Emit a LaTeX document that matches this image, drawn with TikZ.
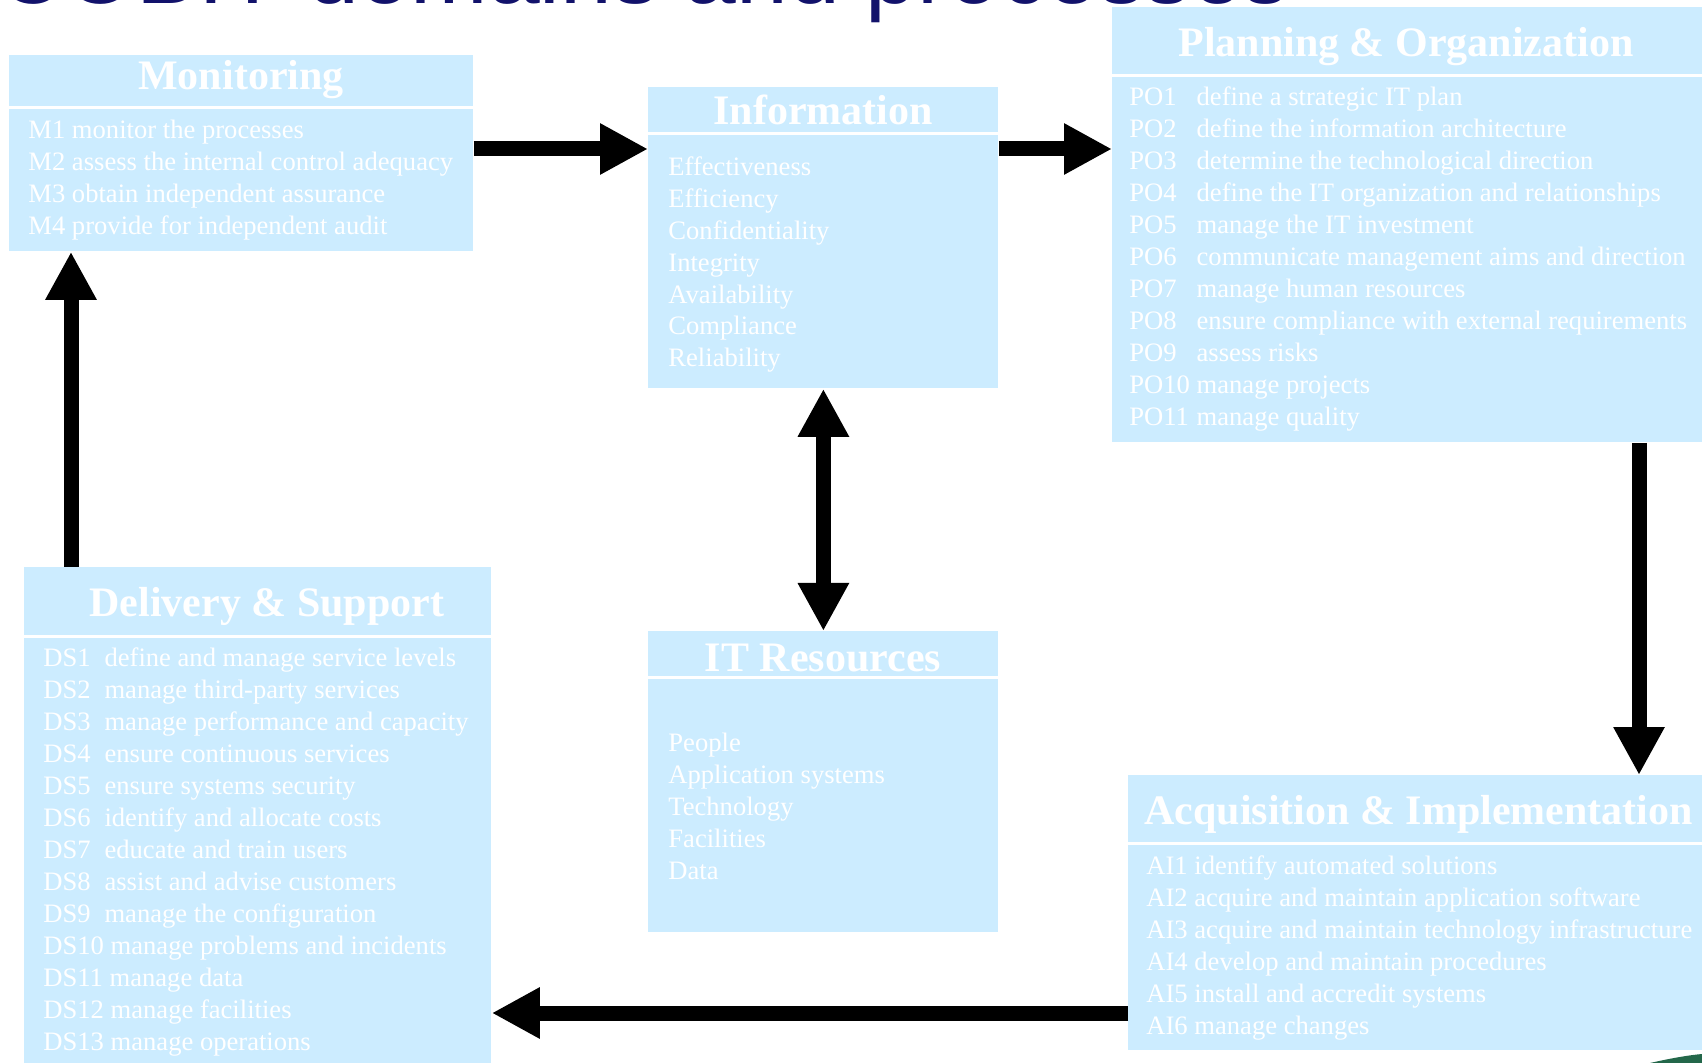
\documentclass[tikz,border=0pt]{standalone}
\usepackage{fontspec}
\setmainfont{Liberation Serif}
\newfontfamily\titlefont{Liberation Sans}
\usetikzlibrary{arrows.meta}

\definecolor{panelblue}{HTML}{CCECFF}
\definecolor{titlenavy}{HTML}{12126B}
\definecolor{logogreen}{HTML}{23674A}

\newcommand{\potab}[1]{\makebox[2.53em][l]{#1}}
\newcommand{\dstab}[1]{\makebox[2.30em][l]{#1}}

\begin{document}
\begin{tikzpicture} [
    x=0.5pt, y=-0.5pt,
  ]

  \tikzstyle{panel} = [
    rectangle,
    fill=panelblue,
    inner sep=0pt,
    anchor=north west,
  ]
  \tikzstyle{divider} = [white, line width=1.5pt]
  \tikzstyle{heading} = [
    text=white,
    inner sep=0pt,
    font=\bfseries\fontsize{21}{24}\selectfont,
  ]
  \tikzstyle{entry} = [
    text=white,
    inner sep=0pt,
    anchor=base west,
    font=\fontsize{13.3}{16}\selectfont,
  ]
  \tikzstyle{flow} = [line width=7.5pt, -{Triangle[length=24pt,width=24pt]}]
  \tikzstyle{dualflow} = [line width=7.5pt, {Triangle[length=24pt,width=24pt]}-{Triangle[length=24pt,width=24pt]}]

  \fill[white] (0,0) rectangle (1702,1063);
  \useasboundingbox (0,0) rectangle (1702,1063);

  \node[anchor=base west, inner sep=0pt, text=titlenavy,
        font=\titlefont\fontsize{46.5}{50}\selectfont] (title) at (-3,4) {COBIT domains and processes};

  \node[panel, minimum width=232pt,   minimum height=98pt]    (mon) at (9,55)     {};
  \node[panel, minimum width=175pt,   minimum height=150.5pt] (inf) at (648,87)   {};
  \node[panel, minimum width=304pt,   minimum height=217.5pt] (pla) at (1112,7)   {};
  \node[panel, minimum width=175pt,   minimum height=150.5pt] (res) at (648,631)  {};
  \node[panel, minimum width=296pt,   minimum height=137.5pt] (acq) at (1128,775) {};
  \node[panel, minimum width=233.5pt, minimum height=260pt]   (del) at (24,567)   {};

  \draw[divider] (mon.west |- 0,107.5) -- (mon.east |- 0,107.5);
  \draw[divider] (inf.west |- 0,133.5) -- (inf.east |- 0,133.5);
  \draw[divider] (pla.west |- 0,76)    -- (pla.east |- 0,76);
  \draw[divider] (res.west |- 0,677.5) -- (res.east |- 0,677.5);
  \draw[divider] (acq.west |- 0,843)   -- (acq.east |- 0,843);
  \draw[divider] (del.west |- 0,636)   -- (del.east |- 0,636);

  \node[heading, anchor=base]      (mon-head) at (241,90)   {Monitoring};
  \node[heading, anchor=base]      (inf-head) at (823,125)  {Information};
  \node[heading, anchor=base west] (pla-head) at (1178,57)  {Planning \& Organization};
  \node[heading, anchor=base]      (res-head) at (823,671)  {IT Resources};
  \node[heading, anchor=base west] (acq-head) at (1144,824) {Acquisition \& Implementation};
  \node[heading, anchor=base west] (del-head) at (89,617)   {Delivery \& Support};

  \foreach \item [count=\i] in {M1 monitor the processes,
      M2 assess the internal control adequacy,
      M3 obtain independent assurance,
      M4 provide for independent audit}
    \node[entry] (mon-\i) at (28,{139+31.7*(\i-1)}) {\item};

  \foreach \item [count=\i] in {Effectiveness, Efficiency, Confidentiality,
      Integrity, Availability, Compliance, Reliability}
    \node[entry] (inf-\i) at (668,{176+31.8*(\i-1)}) {\item};

  \foreach \item [count=\i] in {People, Application systems, Technology,
      Facilities, Data}
    \node[entry] (res-\i) at (668,{751+32*(\i-1)}) {\item};

  \foreach \item [count=\i] in {{\potab{PO1}define a strategic IT plan},
      {\potab{PO2}define the information architecture},
      {\potab{PO3}determine the technological direction},
      {\potab{PO4}define the IT organization and relationships},
      {\potab{PO5}manage the IT investment},
      {\potab{PO6}communicate management aims and direction},
      {\potab{PO7}manage human resources},
      {\potab{PO8}ensure compliance with external requirements},
      {\potab{PO9}assess risks},
      {\potab{PO10}manage projects},
      {\potab{PO11}manage quality}}
    \node[entry] (pla-\i) at (1129,{106+32*(\i-1)}) {\item};

  \foreach \item [count=\i] in {AI1 identify automated solutions,
      AI2 acquire and maintain application software,
      AI3 acquire and maintain technology infrastructure,
      AI4 develop and maintain procedures,
      AI5 install and accredit systems,
      AI6 manage changes}
    \node[entry] (acq-\i) at (1146,{874+32*(\i-1)}) {\item};

  \foreach \item [count=\i] in {{\dstab{DS1}define and manage service levels},
      {\dstab{DS2}manage third-party services},
      {\dstab{DS3}manage performance and capacity},
      {\dstab{DS4}ensure continuous services},
      {\dstab{DS5}ensure systems security},
      {\dstab{DS6}identify and allocate costs},
      {\dstab{DS7}educate and train users},
      {\dstab{DS8}assist and advise customers},
      {\dstab{DS9}manage the configuration},
      DS10 manage problems and incidents,
      DS11 manage data,
      DS12 manage facilities,
      DS13 manage operations}
    \node[entry] (del-\i) at (43,{666+32*(\i-1)}) {\item};

  \draw[flow]     (mon.east |- 0,149)  -- (inf.west |- 0,149);
  \draw[flow]     (inf.east |- 0,149)  -- (pla.west |- 0,149);
  \draw[flow]     (pla.south -| 1639,0) -- (acq.north -| 1639,0);
  \draw[flow]     (acq.west |- 0,1013) -- (del.east |- 0,1013);
  \draw[flow]     (del.north -| 71,0)  -- (mon.south -| 71,0);
  \draw[dualflow] (inf.south) -- (res.north);

  \fill[logogreen] (1650,1063) .. controls (1672,1058) and (1690,1055) .. (1702,1054) -- (1702,1063) -- cycle;

\end{tikzpicture}
\end{document}
